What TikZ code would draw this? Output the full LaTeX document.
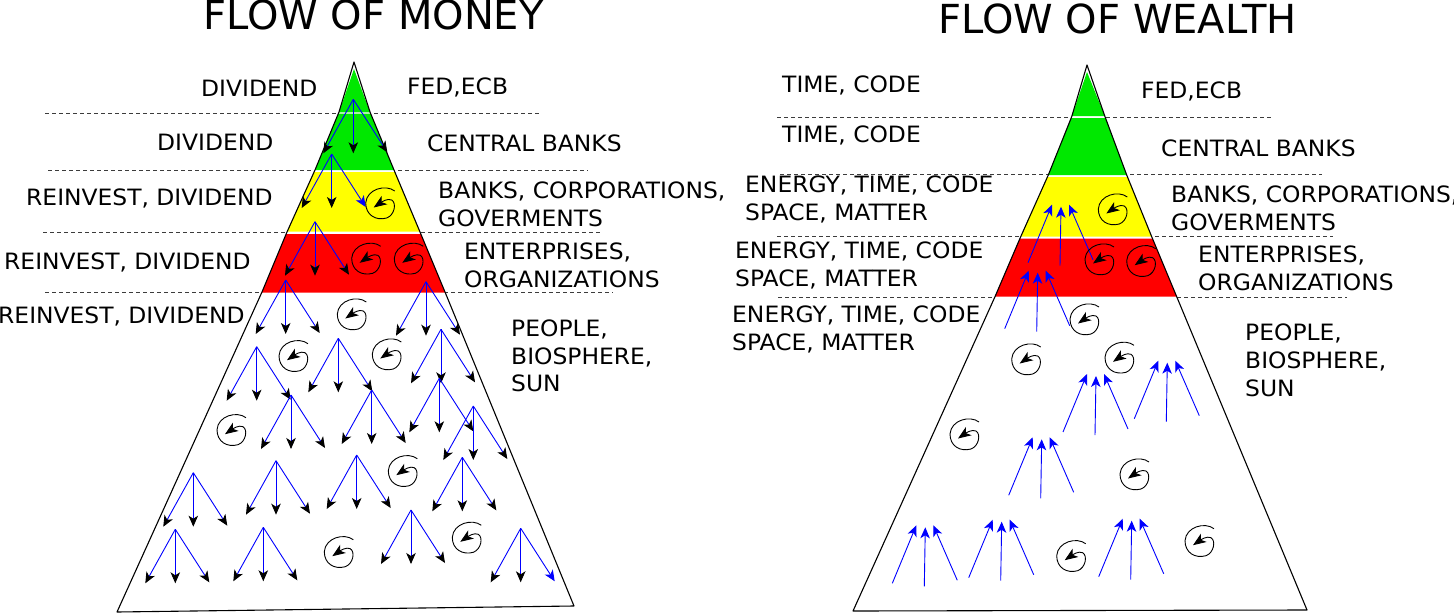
\documentclass[tikz,border=0pt]{standalone}
\usepackage{fontspec}
\setmainfont{DejaVu Sans}
\newfontfamily\lblfont[FakeStretch=1.04]{DejaVu Sans}
\usetikzlibrary{arrows.meta}
\definecolor{pgreen}{RGB}{0,232,0}
\definecolor{pyellow}{RGB}{255,255,0}
\definecolor{pred}{RGB}{255,0,0}
\definecolor{pblue}{RGB}{0,0,255}
\definecolor{dashgray}{RGB}{60,60,60}
\tikzset{
  fanline/.style={draw=pblue, line width=0.9pt},
  dtip/.style={-{Stealth[length=11pt,width=9.5pt,inset=3pt,black]}},
  btip/.style={-{Stealth[length=11pt,width=9.5pt,inset=3pt,pblue]}},
  swirlline/.style={draw=black, line width=0.9pt, -{Stealth[length=13pt,width=10pt,inset=3.5pt]}},
  levelline/.style={draw=dashgray, line width=0.8pt, dash pattern=on 4pt off 3pt},
  outline/.style={draw=black, line width=1.1pt, line join=round},
  lbl/.style={font=\lblfont\fontsize{22.5}{28}\selectfont, inner sep=0pt, anchor=base west},
  ttl/.style={font=\fontsize{40}{48}\selectfont, inner sep=0pt, anchor=base west},
  pics/fan/.style={code={
    \draw[fanline,dtip] (0,0) -- (-30,54);
    \draw[fanline,dtip] (0,0) -- (0,54);
    \draw[fanline,dtip] (0,0) -- (34,53);}},
  pics/fanb/.style={code={
    \draw[fanline,dtip] (0,0) -- (-30,54);
    \draw[fanline,dtip] (0,0) -- (0,54);
    \draw[fanline,btip] (0,0) -- (34,53);}},
  pics/upfan/.style={code={
    \draw[fanline,btip] (-33,56) -- (-9,-2);
    \draw[fanline,btip] (-1,59) -- (0,0);
    \draw[fanline,btip] (32,53) -- (8,-2);}},
  pics/swirl/.style={code={
    \draw[swirlline] (14,-13) .. controls (5,-20) and (-14,-15) .. (-15,-1)
      .. controls (-15,11) and (-5,17) .. (6,14)
      .. controls (14,11) and (16,-1) .. (11,-4)
      .. controls (7,-6) and (1,-2) .. (-7,3.5);}},
}
\begin{document}
\begin{tikzpicture}[x=1pt,y=-1pt]
\useasboundingbox[fill=white] (0,0) rectangle (1454,613);

% ---------- titles ----------
\node[ttl] (title1) at (203,29.3) {FLOW OF MONEY};
\node[ttl] (title2) at (938,33) {FLOW OF WEALTH};

% ================= LEFT PYRAMID =================
\draw[levelline] (45,113) -- (540,113);
\draw[levelline] (48,170) -- (588,170);
\draw[levelline] (43,232) -- (600,232);
\draw[levelline] (45,292) -- (613,292);

\fill[white] (354,62) -- (339,112) -- (315,170) -- (287,232) -- (262,292) -- (117,612)
  -- (574,606) -- (445,292) -- (420,232) -- (394,170) -- (370,112) -- cycle;
\fill[pgreen] (354,69) -- (370,112.3) -- (339,112.3) -- cycle;
\fill[pgreen] (338.3,113.7) -- (370.7,113.7) -- (394,170) -- (315,170) -- cycle;
\fill[pyellow] (314.1,172) -- (394.8,172) -- (419.9,231.7) -- (287.1,231.7) -- cycle;
\fill[pred] (286.1,234.2) -- (420.9,234.2) -- (445.2,292.5) -- (261.8,292.5) -- cycle;
\draw[outline] (354,62) -- (339,112) -- (315,170) -- (287,232) -- (262,292) -- (117,612)
  -- (574,606) -- (445,292) -- (420,232) -- (394,170) -- (370,112) -- cycle;

% fans (money flowing down)
\pic (fA) at (353.3,99.3) {fan};
\pic (fB) at (331.7,154) {fanb};
\pic (fC) at (315,221.7) {fan};
\pic (fD) at (285.7,280) {fan};
\pic (fE) at (426,281.7) {fan};
\pic (fF) at (256.7,346.7) {fan};
\pic (fG) at (338.3,338.3) {fan};
\pic (fH) at (441,329.3) {fan};
\pic (fI) at (291,395) {fan};
\pic (fJ) at (371.7,390) {fan};
\pic (fK) at (439.3,378.3) {fan};
\pic (fL) at (473.3,406) {fan};
\pic (fM) at (193.3,472.7) {fan};
\pic (fN) at (276,460.7) {fan};
\pic (fO) at (356.7,455) {fan};
\pic (fP) at (462.3,457.3) {fan};
\pic (fQ) at (175.3,529.3) {fan};
\pic (fR) at (263.3,527.3) {fan};
\pic (fS) at (411,510) {fan};
\pic (fT) at (520.7,528.3) {fanb};

% swirls
\pic (sA) at (380.7,204) {swirl};
\pic (sB) at (366.7,259.3) {swirl};
\pic (sC) at (409.3,259.3) {swirl};
\pic (sD) at (352.3,315) {swirl};
\pic (sE) at (294,356.7) {swirl};
\pic (sF) at (387.3,355) {swirl};
\pic (sG) at (232,430.7) {swirl};
\pic (sH) at (403.3,471.7) {swirl};
\pic (sI) at (467.3,538.3) {swirl};
\pic (sJ) at (339.3,552.7) {swirl};

% labels left
\node[lbl] (lm1) at (201,96) {DIVIDEND};
\node[lbl] (lm2) at (157,150) {DIVIDEND};
\node[lbl] (lm3) at (26,205) {REINVEST, DIVIDEND};
\node[lbl] (lm4) at (4,269) {REINVEST, DIVIDEND};
\node[lbl] (lm5) at (-2,323) {REINVEST, DIVIDEND};
% labels right
\node[lbl] (rm1) at (407,94) {FED,ECB};
\node[lbl] (rm2) at (427,151) {CENTRAL BANKS};
\node[lbl] (rm3a) at (438,198) {BANKS, CORPORATIONS,};
\node[lbl] (rm3b) at (438,226) {GOVERMENTS};
\node[lbl] (rm4a) at (464,259) {ENTERPRISES,};
\node[lbl] (rm4b) at (464,287) {ORGANIZATIONS};
\node[lbl] (rm5a) at (511,336) {PEOPLE,};
\node[lbl] (rm5b) at (511,364) {BIOSPHERE,};
\node[lbl] (rm5c) at (511,391.5) {SUN};

% ================= RIGHT PYRAMID =================
\draw[levelline] (777,117) -- (1273,117);
\draw[levelline] (780,174) -- (1322,174);
\draw[levelline] (777,236) -- (1333,236);
\draw[levelline] (778,297) -- (1347,297);

\fill[white] (1087,65) -- (1071.7,116.7) -- (1048.3,175) -- (1020.7,236.7) -- (995,296.7) -- (853,611)
  -- (1307,610) -- (1176.7,296.7) -- (1151.7,236.7) -- (1126.7,175) -- (1105,116.7) -- cycle;
\fill[pgreen] (1087,72) -- (1104.8,116) -- (1071.9,116) -- cycle;
\fill[pgreen] (1071.2,118) -- (1105.5,118) -- (1126.7,175) -- (1048.3,175) -- cycle;
\fill[pyellow] (1047.4,177) -- (1127.5,177) -- (1151.6,236.5) -- (1020.8,236.5) -- cycle;
\fill[pred] (1019.8,238.7) -- (1152.5,238.7) -- (1176.7,296.7) -- (995,296.7) -- cycle;
\draw[outline] (1087,65) -- (1071.7,116.7) -- (1048.3,175) -- (1020.7,236.7) -- (995,296.7) -- (853,611)
  -- (1307,610) -- (1176.7,296.7) -- (1151.7,236.7) -- (1126.7,175) -- (1105,116.7) -- cycle;

% fans (wealth flowing up)
\pic (uA) at (1061,206.7) {upfan};
\pic (uB) at (1037.7,272.7) {upfan};
\pic (uC) at (1096,376) {upfan};
\pic (uD) at (1167.3,362.7) {upfan};
\pic (uE) at (1041.7,439.3) {upfan};
\pic (uF) at (925.3,527.3) {upfan};
\pic (uG) at (1001.7,521.7) {upfan};
\pic (uH) at (1131.7,520.7) {upfan};

% swirls
\pic (tA) at (1113.3,210) {swirl};
\pic (tB) at (1100,260) {swirl};
\pic (tC) at (1141.7,261.7) {swirl};
\pic (tD) at (1085,320) {swirl};
\pic (tE) at (1026.7,360) {swirl};
\pic (tF) at (1120,358.3) {swirl};
\pic (tG) at (965,435) {swirl};
\pic (tH) at (1135,475) {swirl};
\pic (tI) at (1071.7,556.7) {swirl};
\pic (tJ) at (1200,541.7) {swirl};

% labels left
\node[lbl] (lw1) at (782,92) {TIME, CODE};
\node[lbl] (lw2) at (782,142) {TIME, CODE};
\node[lbl] (lw3a) at (745,192) {ENERGY, TIME, CODE};
\node[lbl] (lw3b) at (745,220) {SPACE, MATTER};
\node[lbl] (lw4a) at (735,258) {ENERGY, TIME, CODE};
\node[lbl] (lw4b) at (735,286) {SPACE, MATTER};
\node[lbl] (lw5a) at (732,322) {ENERGY, TIME, CODE};
\node[lbl] (lw5b) at (732,350) {SPACE, MATTER};
% labels right
\node[lbl] (rw1) at (1141,98.7) {FED,ECB};
\node[lbl] (rw2) at (1161,156) {CENTRAL BANKS};
\node[lbl] (rw3a) at (1171,202.7) {BANKS, CORPORATIONS,};
\node[lbl] (rw3b) at (1171,230.7) {GOVERMENTS};
\node[lbl] (rw4a) at (1198,262.7) {ENTERPRISES,};
\node[lbl] (rw4b) at (1198,290.7) {ORGANIZATIONS};
\node[lbl] (rw5a) at (1245,340) {PEOPLE,};
\node[lbl] (rw5b) at (1245,368) {BIOSPHERE,};
\node[lbl] (rw5c) at (1245,396) {SUN};
\end{tikzpicture}
\end{document}
